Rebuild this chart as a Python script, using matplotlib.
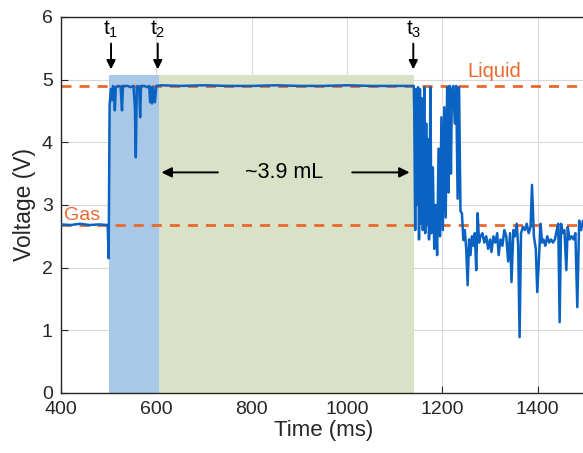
import matplotlib
matplotlib.use('Agg')
import matplotlib.pyplot as plt
import numpy as np

plt.rcParams['font.family'] = ['Liberation Sans', 'DejaVu Sans']

# signal (time in ms, voltage in V)
t_gas = [400, 420, 440, 460, 480, 498]
v_gas = [2.69, 2.68, 2.70, 2.68, 2.69, 2.68]

t_fill = [500, 502, 505, 507, 509, 511, 513, 515, 520, 525, 528, 530, 532, 540,
          546, 552, 555, 557, 559, 561, 564, 566, 568, 575, 580, 585, 587,
          589, 591, 593, 595, 597, 600, 610]
v_fill = [2.15, 4.6, 4.85, 4.67, 4.9, 4.88, 4.51, 4.88, 4.9, 4.89, 4.51, 4.9, 4.9, 4.9,
          4.88, 4.9, 4.56, 3.76, 4.88, 4.9, 4.88, 4.4, 4.9, 4.9, 4.88, 4.9, 4.64,
          4.88, 4.62, 4.88, 4.72, 4.64, 4.9, 4.91]

t_full = [650, 700, 750, 800, 850, 900, 950, 1000, 1050, 1100, 1138]
v_full = [4.9, 4.91, 4.9, 4.9, 4.91, 4.9, 4.9, 4.91, 4.9, 4.9, 4.9]

t_drain = [1140, 1141, 1143, 1145, 1147, 1149, 1151, 1153, 1155, 1157, 1159, 1162,
           1164, 1166, 1168, 1170, 1172, 1175, 1177, 1180, 1183, 1186, 1189, 1192,
           1195, 1198, 1201, 1204, 1207, 1210, 1213, 1215, 1218, 1220, 1223, 1226,
           1229, 1232, 1235, 1238]
v_drain = [4.9, 4.5, 2.6, 4.85, 3.0, 4.88, 2.45, 4.85, 2.7, 4.7, 2.6, 4.88,
           2.55, 4.3, 2.7, 4.05, 2.45, 4.88, 2.55, 3.6, 2.3, 3.0, 2.2, 3.9,
           2.5, 4.4, 2.6, 4.56, 2.8, 4.88, 3.2, 4.9, 3.5, 4.85, 4.9, 4.3,
           4.9, 3.1, 4.88, 2.9]

t_after = [1241, 1244, 1247, 1250, 1253, 1256, 1259, 1262, 1265, 1268, 1271, 1274,
           1277, 1280, 1284, 1288, 1292, 1296, 1300, 1303, 1307, 1311, 1315, 1318,
           1322, 1326, 1330, 1334, 1338, 1342, 1345, 1349, 1352, 1356, 1359, 1362,
           1365, 1369, 1373, 1377, 1381, 1385, 1388, 1392, 1396, 1399, 1403, 1406,
           1409, 1412, 1416, 1420, 1424, 1428, 1432, 1436, 1440, 1443, 1446, 1449,
           1452, 1456, 1460, 1463, 1467, 1471, 1475, 1479, 1483, 1487, 1491, 1495, 1500]
v_after = [2.87, 2.44, 2.6, 2.3, 1.72, 2.45, 2.2, 2.5, 2.35, 2.55, 1.96, 2.87,
           2.4, 2.5, 2.55, 2.4, 2.5, 2.3, 2.45, 2.25, 2.5, 2.4, 2.55, 2.2,
           2.45, 2.35, 2.6, 2.5, 2.1, 2.55, 1.77, 2.6, 2.5, 2.7, 2.35, 0.89,
           2.55, 2.65, 2.6, 2.7, 2.55, 2.65, 3.32, 2.5, 2.3, 1.61, 2.2, 2.7,
           2.4, 2.45, 2.35, 2.5, 2.4, 2.45, 2.4, 2.45, 2.6, 2.7, 1.13, 2.7,
           2.55, 2.6, 1.96, 2.65, 2.45, 2.5, 2.45, 2.55, 1.37, 2.75, 2.6, 2.75, 2.7]

time = np.array(t_gas + t_fill + t_full + t_drain + t_after)
volt = np.array(v_gas + v_fill + v_full + v_drain + v_after)

liquid_level = 4.9
gas_level = 2.68
t1, t2, t3 = 500, 605, 1140

orange = '#e8692e'
dark = '#262626'

fig = plt.figure(figsize=(5.83, 4.53), dpi=100)
ax = fig.add_axes([0.1046, 0.1325, 0.8995, 0.83])

ax.axvspan(t1, t2, ymin=0, ymax=5.07 / 6, color='#a9c8e8', lw=0, zorder=1)
ax.axvspan(t2, t3, ymin=0, ymax=5.07 / 6, color='#d9e2c6', lw=0, zorder=1)

ax.axhline(liquid_level, color=orange, ls=(0, (3.6, 2.9)), lw=2, zorder=2)
ax.axhline(gas_level, color=orange, ls=(0, (3.6, 2.9)), lw=2, zorder=2)

ax.plot(time, volt, color='#0a62c2', lw=1.8, zorder=3)

ax.text(407, 2.76, 'Gas', color=orange, fontsize=14, ha='left', va='baseline')
ax.text(1309, 5.04, 'Liquid', color=orange, fontsize=14.5, ha='center', va='baseline')

for tx, lab in [(505, '$\\mathregular{t_1}$'), (603, '$\\mathregular{t_2}$'),
                (1139, '$\\mathregular{t_3}$')]:
    ax.annotate('', xy=(tx, 5.12), xytext=(tx, 5.62),
                arrowprops=dict(arrowstyle='-|>', color='black', lw=1.4,
                                mutation_scale=13))
    ax.text(tx, 5.63, lab, fontsize=15, ha='center', va='bottom')

ax.annotate('', xy=(605, 3.52), xytext=(735, 3.52),
            arrowprops=dict(arrowstyle='-|>', color='black', lw=1.4, mutation_scale=15))
ax.annotate('', xy=(1137, 3.52), xytext=(1005, 3.52),
            arrowprops=dict(arrowstyle='-|>', color='black', lw=1.4, mutation_scale=15))
ax.text(868, 3.52, '~3.9 mL', fontsize=15.5, ha='center', va='center')

ax.set_xlim(400, 1500)
ax.set_ylim(0, 6)
ax.set_xticks([400, 600, 800, 1000, 1200, 1400])
ax.set_yticks(range(7))
ax.grid(True, color='#d9d9d9', lw=0.8, zorder=0)
ax.set_axisbelow(True)
ax.tick_params(direction='in', labelsize=14, colors=dark, length=5, pad=6,
               top=False, right=False)
for s in ax.spines.values():
    s.set_color(dark)
    s.set_linewidth(1.0)
ax.set_xlabel('Time (ms)', fontsize=16, color=dark, labelpad=1)
ax.set_ylabel('Voltage (V)', fontsize=16.5, color=dark, labelpad=4)

fig.savefig('out.png', dpi=100)
